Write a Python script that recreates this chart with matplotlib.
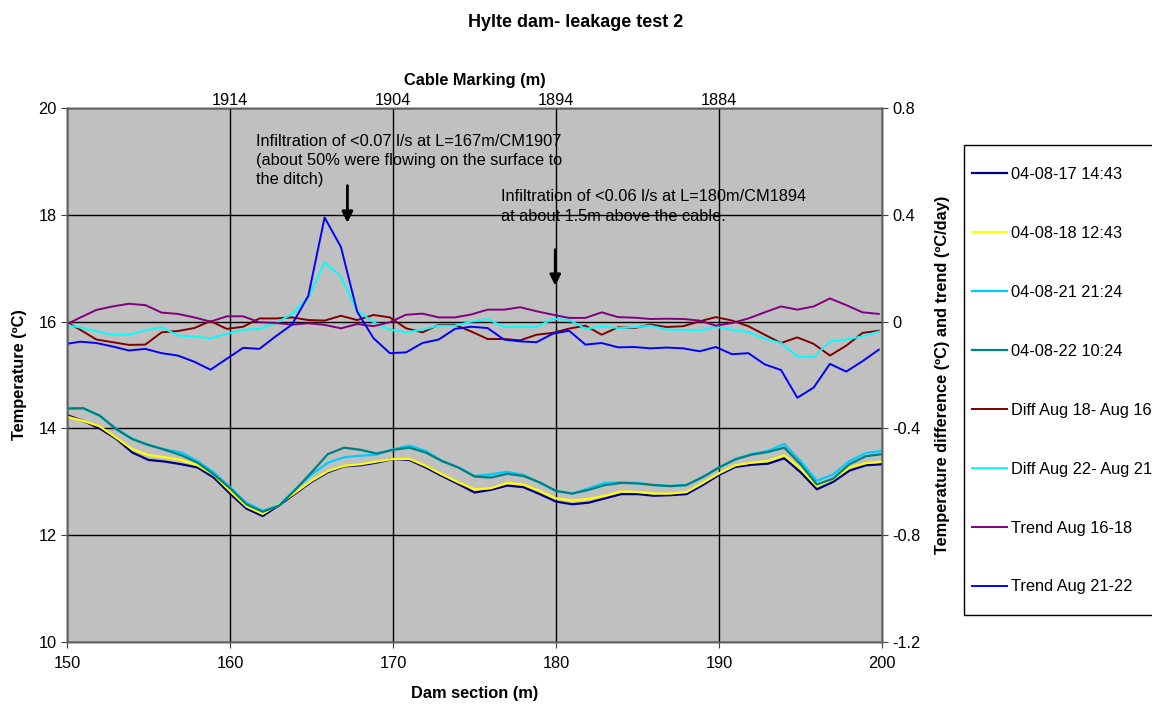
import numpy as np
import matplotlib
matplotlib.use('Agg')
import matplotlib.pyplot as plt
from matplotlib.patches import Rectangle

plt.rcParams['font.family'] = ['Liberation Sans', 'DejaVu Sans']

# Dam section positions (m)
dam_x = np.arange(150, 201)           # temperature profiles
diff_x = np.arange(149.8, 200.0, 1.0)  # difference / trend series

t_0817 = [14.25, 14.14, 14.00, 13.81, 13.55, 13.41, 13.38, 13.33, 13.27, 13.08,
          12.78, 12.50, 12.36, 12.56, 12.78, 13.00, 13.18, 13.29, 13.31, 13.36,
          13.43, 13.41, 13.27, 13.11, 12.96, 12.80, 12.85, 12.93, 12.90, 12.77,
          12.63, 12.58, 12.61, 12.69, 12.77, 12.77, 12.74, 12.75, 12.77, 12.94,
          13.13, 13.28, 13.32, 13.34, 13.44, 13.18, 12.86, 13.00, 13.21, 13.31, 13.33]
t_0818 = [14.22, 14.14, 14.04, 13.83, 13.61, 13.50, 13.46, 13.41, 13.31, 13.13,
          12.83, 12.54, 12.40, 12.58, 12.80, 13.02, 13.20, 13.30, 13.33, 13.38,
          13.43, 13.43, 13.30, 13.14, 12.99, 12.86, 12.88, 12.98, 12.95, 12.83,
          12.69, 12.65, 12.68, 12.74, 12.82, 12.81, 12.78, 12.78, 12.81, 12.98,
          13.16, 13.31, 13.36, 13.39, 13.50, 13.25, 12.92, 13.05, 13.27, 13.35, 13.38]
t_0821 = [14.39, 14.37, 14.24, 14.00, 13.81, 13.69, 13.61, 13.55, 13.39, 13.18,
          12.90, 12.61, 12.46, 12.56, 12.86, 13.14, 13.36, 13.46, 13.49, 13.51,
          13.61, 13.68, 13.58, 13.39, 13.27, 13.11, 13.14, 13.19, 13.13, 12.98,
          12.83, 12.78, 12.88, 12.98, 12.99, 12.98, 12.94, 12.92, 12.94, 13.09,
          13.27, 13.43, 13.52, 13.58, 13.71, 13.39, 13.02, 13.14, 13.39, 13.54, 13.58]
t_0822 = [14.37, 14.38, 14.24, 13.99, 13.80, 13.69, 13.60, 13.50, 13.36, 13.14,
          12.88, 12.58, 12.44, 12.55, 12.85, 13.18, 13.52, 13.64, 13.60, 13.53,
          13.60, 13.64, 13.55, 13.39, 13.27, 13.10, 13.08, 13.15, 13.11, 12.99,
          12.83, 12.78, 12.85, 12.94, 12.98, 12.97, 12.94, 12.92, 12.94, 13.09,
          13.27, 13.42, 13.51, 13.56, 13.64, 13.33, 12.95, 13.06, 13.33, 13.48, 13.52]

diff_18_16 = [0.005, -0.030, -0.067, -0.077, -0.087, -0.086, -0.040, -0.035, -0.024, 0.002,
              -0.027, -0.019, 0.012, 0.012, 0.016, 0.006, 0.004, 0.022, 0.006, 0.025,
              0.016, -0.025, -0.040, -0.012, -0.012, -0.037, -0.065, -0.065, -0.070, -0.049,
              -0.042, -0.026, -0.015, -0.049, -0.021, -0.024, -0.011, -0.020, -0.017, 0.001,
              0.017, 0.004, -0.017, -0.049, -0.080, -0.059, -0.083, -0.127, -0.090, -0.042, -0.034]
diff_22_21 = [-0.010, -0.022, -0.036, -0.049, -0.049, -0.032, -0.021, -0.052, -0.056, -0.062,
              -0.046, -0.030, -0.027, -0.006, 0.029, 0.091, 0.222, 0.168, 0.041, -0.002,
              -0.030, -0.040, -0.030, -0.015, -0.015, 0.000, 0.010, -0.020, -0.020, -0.020,
              0.010, 0.007, -0.027, -0.017, -0.024, -0.021, -0.015, -0.030, -0.030, -0.034,
              -0.020, -0.030, -0.039, -0.064, -0.080, -0.130, -0.133, -0.074, -0.067, -0.055, -0.037]
trend_16_18 = [-0.015, 0.015, 0.044, 0.057, 0.067, 0.062, 0.034, 0.029, 0.016, 0.000,
               0.020, 0.020, -0.002, -0.005, -0.011, -0.006, -0.012, -0.025, -0.009, -0.017,
               -0.002, 0.026, 0.030, 0.016, 0.016, 0.027, 0.045, 0.045, 0.054, 0.039,
               0.026, 0.014, 0.014, 0.035, 0.017, 0.015, 0.010, 0.011, 0.010, 0.004,
               -0.015, -0.005, 0.012, 0.035, 0.057, 0.045, 0.057, 0.087, 0.062, 0.035, 0.029]
trend_21_22 = [-0.085, -0.075, -0.080, -0.093, -0.108, -0.102, -0.118, -0.127, -0.150, -0.180,
               -0.139, -0.098, -0.102, -0.055, -0.011, 0.097, 0.390, 0.280, 0.037, -0.062,
               -0.118, -0.115, -0.080, -0.067, -0.027, -0.019, -0.024, -0.067, -0.074, -0.077,
               -0.045, -0.034, -0.086, -0.080, -0.096, -0.095, -0.100, -0.097, -0.100, -0.111,
               -0.095, -0.122, -0.118, -0.160, -0.181, -0.285, -0.247, -0.158, -0.187, -0.148, -0.105]

cable_ticks = [1914, 1904, 1894, 1884]

FS = 11.8

fig = plt.figure(figsize=(11.52, 7.04), dpi=100)
ax = fig.add_axes([0.0582, 0.088, 0.7075, 0.7585])
ax.set_facecolor('#C0C0C0')

h1, = ax.plot(dam_x, t_0817, color='#000080', lw=1.6, label='04-08-17 14:43')
h2, = ax.plot(dam_x, t_0818, color='#FFFF00', lw=1.6, label='04-08-18 12:43')
h3, = ax.plot(dam_x, t_0821, color='#00CCFF', lw=1.6, label='04-08-21 21:24')
h4, = ax.plot(dam_x, t_0822, color='#008080', lw=1.6, label='04-08-22 10:24')

ax.set_xlim(150, 200)
ax.set_ylim(10, 20)
ax.set_xticks(range(150, 201, 10))
ax.set_yticks(range(10, 21, 2))
ax.grid(True, color='black', linewidth=1)
ax.set_axisbelow(True)
ax.tick_params(labelsize=FS, direction='out', length=4, color='#404040')
ax.tick_params(axis='x', pad=6)
ax.set_xlabel('Dam section (m)', fontsize=FS, fontweight='bold', labelpad=11)
ax.set_ylabel('Temperature (ºC)', fontsize=FS, fontweight='bold', labelpad=8)

# annotations
ax.text(161.6, 19.52, 'Infiltration of <0.07 l/s at L=167m/CM1907\n'
        '(about 50% were flowing on the surface to\nthe ditch)',
        fontsize=FS, va='top', ha='left', linespacing=1.36)
ax.annotate('', xy=(167.2, 17.8), xytext=(167.2, 18.6),
            arrowprops=dict(arrowstyle='-|>', color='black', lw=2, mutation_scale=16))
ax.text(176.6, 18.48, 'Infiltration of <0.06 l/s at L=180m/CM1894\n'
        'at about 1.5m above the cable.',
        fontsize=FS, va='top', ha='left', linespacing=1.36)
ax.annotate('', xy=(179.95, 16.62), xytext=(179.95, 17.4),
            arrowprops=dict(arrowstyle='-|>', color='black', lw=2, mutation_scale=16))

ax2 = ax.twinx()
h5, = ax2.plot(diff_x, diff_18_16, color='#800000', lw=1.4, label='Diff Aug 18- Aug 16')
h6, = ax2.plot(diff_x, diff_22_21, color='#00FFFF', lw=1.4, label='Diff Aug 22- Aug 21')
h7, = ax2.plot(diff_x, trend_16_18, color='#800080', lw=1.4, label='Trend Aug 16-18')
h8, = ax2.plot(diff_x, trend_21_22, color='#0000FF', lw=1.4, label='Trend Aug 21-22')
ax2.set_xlim(150, 200)
ax2.set_ylim(-1.2, 0.8)
rticks = [-1.2, -0.8, -0.4, 0, 0.4, 0.8]
ax2.set_yticks(rticks)
ax2.set_yticklabels(['-1.2', '-0.8', '-0.4', '0', '0.4', '0.8'])
ax2.tick_params(labelsize=FS, direction='out', length=4, color='#404040')
ax2.set_ylabel('Temperature difference (ºC) and trend (ºC/day)', fontsize=FS,
               fontweight='bold', labelpad=10)

ax3 = ax.twiny()
ax3.set_xlim(2074 - 150, 2074 - 200)
ax3.set_xticks(cable_ticks)
ax3.set_xticklabels([str(c) for c in cable_ticks])
ax3.tick_params(labelsize=FS, length=0, pad=0)
ax3.set_xlabel('Cable Marking (m)', fontsize=FS, fontweight='bold', labelpad=6)

for a in (ax, ax2, ax3):
    for s in a.spines.values():
        s.set_color('#606060')
        s.set_linewidth(1)

fig.suptitle('Hylte dam- leakage test 2', fontsize=13, fontweight='bold', y=0.98)

# legend box, open on the right like the cropped original
fig.add_artist(Rectangle((964 / 1152, 1 - 615 / 704), 0.3, (615 - 145) / 704,
                         transform=fig.transFigure, facecolor='white',
                         edgecolor='black', linewidth=1, zorder=2))
leg = fig.legend(handles=[h1, h2, h3, h4, h5, h6, h7, h8], loc='upper left',
                 bbox_to_anchor=(972 / 1152, 1 - 167 / 704), fontsize=FS,
                 frameon=False, labelspacing=2.68, handlelength=2.15,
                 handletextpad=0.2, borderpad=0, borderaxespad=0)
leg.set_zorder(3)

fig.savefig('out.png', dpi=100)
